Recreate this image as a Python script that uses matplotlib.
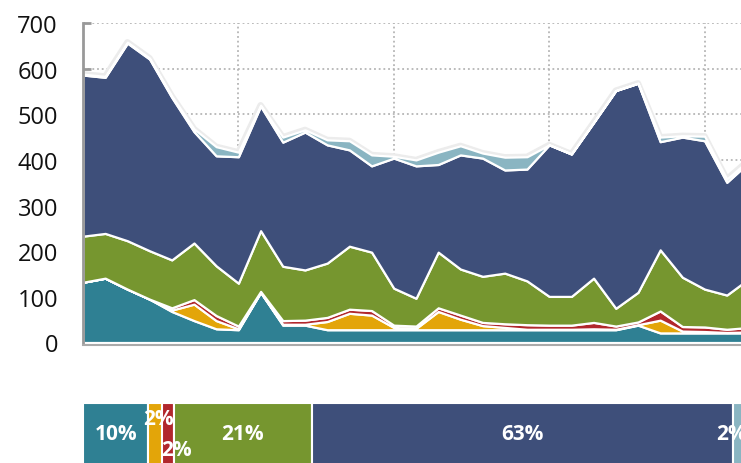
import numpy as np
import matplotlib
matplotlib.use('Agg')
import matplotlib.pyplot as plt

plt.rcParams['font.family'] = ['Open Sans', 'DejaVu Sans']

# daily values, stacked bottom -> top
days = np.arange(31)
teal = [132, 141, 117, 95, 68, 48, 30, 28, 110, 38, 38, 28, 28, 28, 28, 28,
        28, 28, 28, 28, 28, 28, 28, 28, 28, 38, 21, 21, 21, 21, 21]
orange = [0, 0, 0, 0, 3, 36, 18, 2, 0, 2, 2, 18, 36, 32, 5, 3,
          40, 23, 9, 5, 1, 1, 1, 2, 1, 1, 28, 4, 3, 1, 2]
red = [0, 0, 0, 0, 5, 10, 11, 6, 2, 8, 9, 9, 9, 10, 5, 5,
       8, 9, 7, 8, 10, 9, 9, 14, 7, 6, 20, 10, 10, 7, 10]
green = [101, 98, 106, 106, 105, 124, 109, 94, 133, 119, 110, 119, 138, 128, 81, 61,
         122, 101, 101, 111, 96, 63, 63, 97, 39, 65, 134, 108, 83, 75, 107]
blue = [353, 342, 433, 420, 356, 244, 241, 277, 273, 272, 302, 259, 211, 189, 285, 290,
        192, 250, 259, 226, 245, 332, 312, 341, 477, 458, 237, 307, 325, 247, 255]
lightblue = [2, 2, 2, 2, 3, 6, 20, 10, 2, 11, 5, 11, 20, 24, 4, 13,
             27, 20, 11, 28, 27, 0, 0, 0, 0, 0, 10, 3, 10, 7, 5]

# share of total, same order
shares = [9.8, 2.1, 1.7, 20.8, 63.2, 2.4]
share_labels = ['10%', '2%', '2%', '21%', '63%', '2%']

colors = ['#2f8093', '#e3a509', '#b1272c', '#76962f', '#3e4f7a', '#8ab5c2']

fig = plt.figure(figsize=(7.41, 4.64), dpi=100)

# ---- stacked area ----
ax = fig.add_axes([83 / 741, 1 - 343.5 / 464, 666 / 741, 319.5 / 464])
series = [teal, orange, red, green, blue, lightblue]
top = np.sum(series, axis=0)
ax.plot(days, top, color='#ececec', lw=4.5, solid_joinstyle='round', zorder=1.5)
ax.stackplot(days, *series, colors=colors, edgecolor='white', linewidth=1.6,
             zorder=2)

ax.set_xlim(0, 30)
ax.set_ylim(0, 700)
ax.set_yticks(np.arange(0, 701, 100))
ax.set_xticks([7, 14, 21, 28])
ax.set_xticklabels([])
ax.set_axisbelow(True)
ax.grid(True, color='#b5b5b5', linestyle=(0, (1, 1.6)), linewidth=1.3)
ax.tick_params(axis='x', length=0)
ax.tick_params(axis='y', direction='in', length=6, width=2, color='#999999',
               pad=18, labelsize=17, labelcolor='#111111')
for s in ['top', 'right']:
    ax.spines[s].set_visible(False)
ax.spines['left'].set_color('#999999')
ax.spines['left'].set_linewidth(2)
ax.spines['bottom'].set_color('#aaaaaa')
ax.spines['bottom'].set_linewidth(1.5)
ax.spines['bottom'].set_position(('outward', 1.5))

# ---- share bar ----
ax2 = fig.add_axes([83 / 741, -2 / 464, 666 / 741, 62 / 464])
left = np.concatenate([[0], np.cumsum(shares)[:-1]])
ax2.barh(0, shares, left=left, height=1, color=colors, edgecolor='white',
         linewidth=1.5)
ax2.set_xlim(0, sum(shares))
ax2.set_ylim(-0.5, 0.5)
ax2.axis('off')
ax2.axhline(0.5, color='#e8e8e8', lw=1.5, zorder=0)

n_small = 0
for i, (l, w, lab) in enumerate(zip(left, shares, share_labels)):
    cx = l + w / 2
    dx, dy, ha = 0, 0, 'center'
    if i == len(shares) - 1:
        cx, ha = sum(shares) - 0.4, 'right'
    elif w < 5:
        dx, dy = (2, 11) if n_small % 2 == 0 else (6, -11)
        n_small += 1
    ax2.annotate(lab, (cx, 0), xytext=(dx, dy), textcoords='offset points',
                 ha=ha, va='center', color='white', fontsize=15,
                 fontweight='bold')

fig.savefig('out.png', dpi=100)
